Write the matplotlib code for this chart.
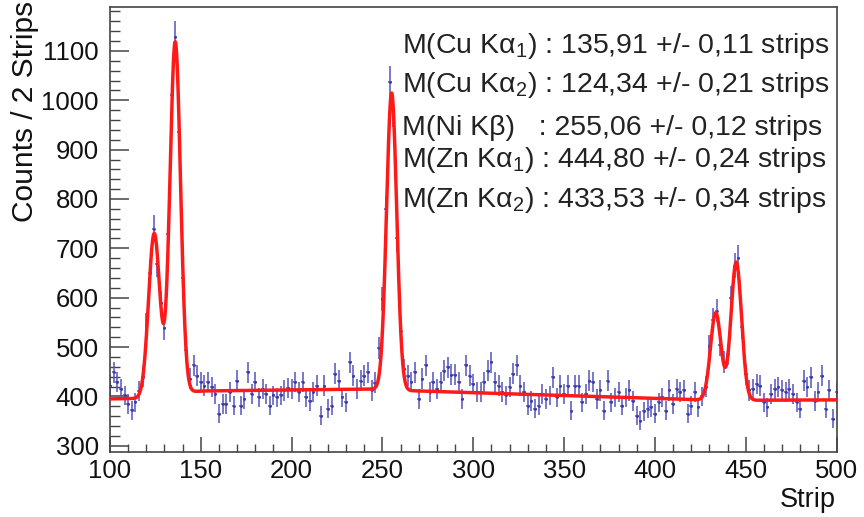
import numpy as np
import matplotlib
matplotlib.use("Agg")
import matplotlib.pyplot as plt
from matplotlib.ticker import MultipleLocator

# ---------------- data ----------------
strip_start, strip_stop, strip_step = 100, 500, 2
counts = [
    422, 449, 429, 415, 402, 385, 372, 388, 410, 440,      # 100-118
    545, 650, 740, 668, 590, 538, 730, 1010, 1128, 935,    # 120-138
    640, 495, 436, 463, 442, 429, 422, 429, 419, 405,      # 140-158
    365, 385, 385, 409, 381, 432, 381, 395, 449, 405,      # 160-178
    429, 398, 415, 405, 381, 402, 398, 402, 412, 417,      # 180-198
    415, 429, 409, 429, 398, 391, 409, 422, 361, 422,      # 200-218
    375, 381, 446, 432, 398, 388, 469, 442, 415, 432,      # 220-238
    442, 449, 412, 428, 498, 597, 779, 1038, 977, 720,     # 240-258
    533, 455, 442, 429, 449, 395, 436, 463, 409, 429,      # 260-278
    415, 429, 452, 459, 444, 444, 429, 395, 463, 442,      # 280-298
    425, 409, 409, 429, 452, 469, 429, 422, 409, 402,      # 300-318
    419, 446, 463, 422, 409, 381, 391, 375, 381, 405,      # 320-338
    395, 402, 439, 398, 422, 405, 422, 371, 422, 422,      # 340-358
    388, 405, 432, 429, 395, 412, 371, 432, 388, 398,      # 360-378
    409, 381, 398, 412, 391, 361, 351, 370, 375, 378,      # 380-398
    365, 388, 398, 371, 412, 385, 415, 409, 412, 365,      # 400-418
    381, 409, 378, 400, 420, 503, 555, 574, 505, 470,      # 420-438
    485, 600, 665, 680, 540, 445, 412, 415, 425, 422,      # 440-458
    388, 378, 405, 415, 419, 412, 409, 415, 405, 388,      # 460-478
    375, 432, 419, 439, 391, 409, 442, 375, 412, 355,      # 480-498
    409,                                                   # 500
]

# fit result (gaussian peaks on a background)
peak_labels = ["Cu Kα$_{1}$", "Cu Kα$_{2}$", "Ni Kβ",
               "Zn Kα$_{1}$", "Zn Kα$_{2}$"]
peak_mean = [135.91, 124.34, 255.06, 444.80, 433.53]
peak_err = [0.11, 0.21, 0.12, 0.24, 0.34]
peak_amp = [712, 330, 601, 280, 177]
peak_sigma = [2.9, 3.1, 2.8, 2.9, 2.9]
bg_strip = [100, 118, 132, 150, 250, 262, 425, 440, 500]
bg_counts = [395, 396, 405, 411, 415, 412, 393, 392, 393]

# ---------------- figure ----------------
W, H = 864, 517
plt.rcParams['font.family'] = ['Liberation Sans', 'DejaVu Sans']
plt.rcParams['mathtext.fontset'] = 'custom'
plt.rcParams['mathtext.rm'] = 'Liberation Sans'
plt.rcParams['mathtext.it'] = 'Liberation Sans'
fig = plt.figure(figsize=(W / 100, H / 100), dpi=100)
ax = fig.add_axes([110 / W, 1 - 451.7 / H, (836.5 - 110) / W, (451.7 - 7) / H])

x = np.arange(strip_start, strip_stop + 1, strip_step)
y = np.array(counts, dtype=float)
ax.errorbar(x, y, yerr=np.sqrt(y), xerr=strip_step / 2, fmt='.', ms=2,
            color='#3a3aa8', ecolor='#5555bb', elinewidth=1.1, capsize=0,
            zorder=2)

xf = np.linspace(strip_start, strip_stop, 3000)
yf = np.interp(xf, bg_strip, bg_counts)
for m, a, s in zip(peak_mean, peak_amp, peak_sigma):
    yf = yf + a * np.exp(-0.5 * ((xf - m) / s) ** 2)
ax.plot(xf, yf, color='#ff1a1a', lw=2.5, zorder=3, solid_capstyle='round')

ax.set_xlim(100, 500)
ax.set_ylim(288, 1189)
ax.xaxis.set_major_locator(MultipleLocator(50))
ax.xaxis.set_minor_locator(MultipleLocator(10))
ax.yaxis.set_major_locator(MultipleLocator(100))
ax.yaxis.set_minor_locator(MultipleLocator(20))
ax.tick_params(axis='x', which='major', direction='in', length=11, width=1.1,
               labelsize=18.5, pad=5, color='#444444', labelcolor='#111111')
ax.tick_params(axis='x', which='minor', direction='in', length=5.5, width=1.0,
               color='#444444')
ax.tick_params(axis='y', which='major', direction='in', length=14, width=1.1,
               labelsize=18.5, pad=8, color='#444444', labelcolor='#111111')
ax.tick_params(axis='y', which='minor', direction='in', length=7, width=1.0,
               color='#444444')
for sp in ax.spines.values():
    sp.set_color('#444444')
    sp.set_linewidth(1.2)

# axis titles
fig.text(25 / W, 1 - 1 / H, "Counts / 2 Strips", rotation=90, ha='center',
         va='top', fontsize=21.5, color='#111111')
fig.text(836 / W, 1 - 507 / H, "Strip", ha='right', va='baseline',
         fontsize=19.5, color='#111111')

# fit results
baselines = [53, 92, 135, 167, 207]
for lab, m, e, yb in zip(peak_labels, peak_mean, peak_err, baselines):
    sep = "   : " if "β" in lab else " : "
    txt = "M(" + lab + ")" + sep + f"{m:.2f}".replace('.', ',') + " +/- " + \
        f"{e:.2f}".replace('.', ',') + " strips"
    fig.text(402 / W, 1 - yb / H, txt, ha='left', va='baseline', fontsize=20.5,
             color='#222222')

fig.savefig("out.png", dpi=100)
